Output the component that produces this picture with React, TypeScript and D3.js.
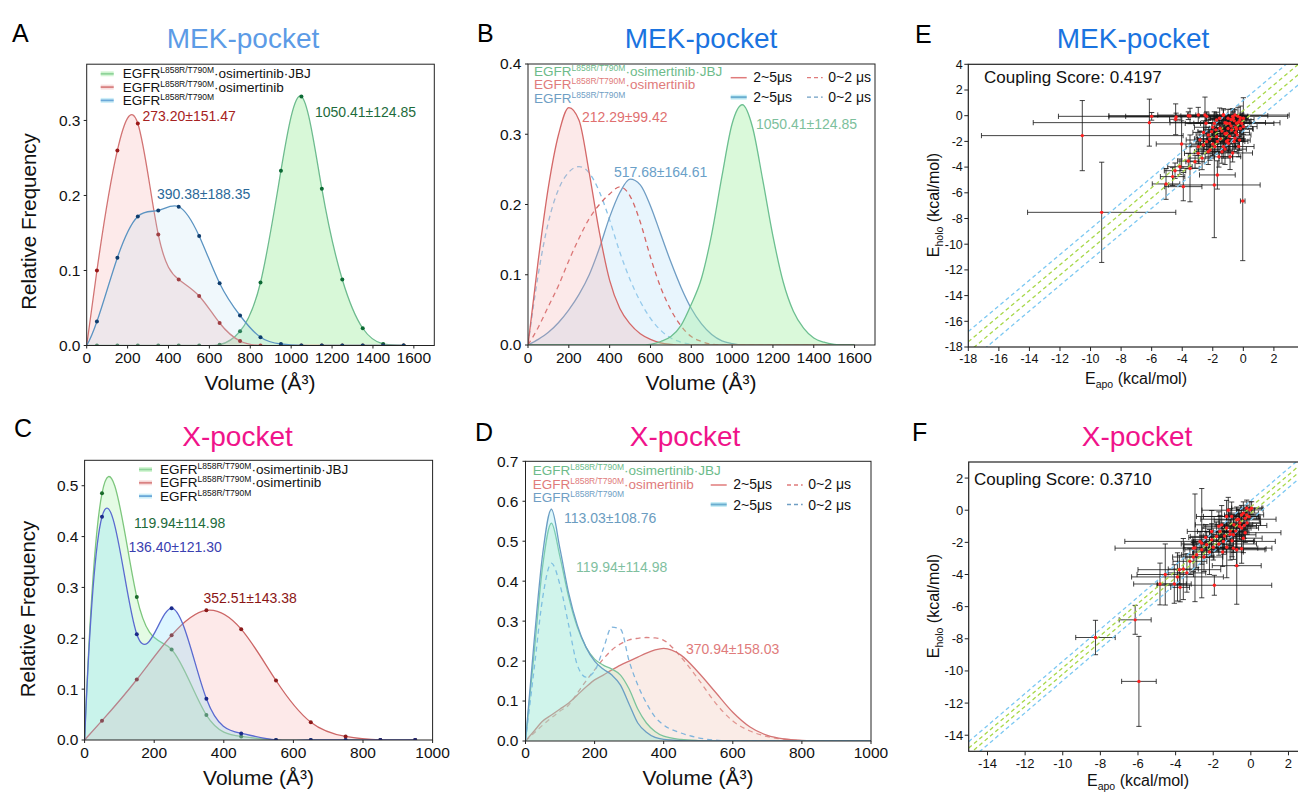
import React from "react";
import * as d3 from "d3";

const FONT = "Arial, 'Liberation Sans', Helvetica, sans-serif";

// ---------- Panel A (MEK-pocket, histogram points) ----------
const volA = [0, 50, 150, 250, 350, 450, 550, 650, 750, 850, 950, 1050, 1150, 1250, 1350, 1450, 1550];
const freqA_jbj = [0, 0, 0, 0, 0, 0, 0, 0.001, 0.019, 0.084, 0.233, 0.332, 0.209, 0.088, 0.023, 0.002, 0];
const freqA_osi = [0, 0.1, 0.26, 0.296, 0.148, 0.088, 0.066, 0.03, 0.006, 0, 0, 0, 0, 0, 0, 0, 0];
const freqA_apo = [0, 0.032, 0.117, 0.172, 0.18, 0.185, 0.146, 0.083, 0.04, 0.011, 0.002, 0, 0, 0, 0, 0, 0];

// ---------- Panel B (MEK-pocket, time windows) ----------
const volB = [0, 50, 100, 150, 200, 250, 300, 350, 400, 450, 500, 550, 600, 650, 700, 750, 800, 850, 900, 950, 1000, 1050, 1100, 1150, 1200, 1250, 1300, 1350, 1400, 1450, 1500, 1550, 1600];
const freqB_osi_25 = [0, 0.12, 0.225, 0.3, 0.338, 0.32, 0.245, 0.16, 0.092, 0.052, 0.03, 0.016, 0.008, 0.003, 0.001, 0, 0, 0, 0, 0, 0, 0, 0, 0, 0, 0, 0, 0, 0, 0, 0, 0, 0];
const freqB_osi_02 = [0, 0.025, 0.055, 0.085, 0.12, 0.152, 0.18, 0.2, 0.215, 0.225, 0.212, 0.175, 0.125, 0.082, 0.05, 0.027, 0.012, 0.005, 0.001, 0, 0, 0, 0, 0, 0, 0, 0, 0, 0, 0, 0, 0, 0];
const freqB_apo_25 = [0, 0.008, 0.018, 0.032, 0.05, 0.072, 0.1, 0.138, 0.182, 0.217, 0.236, 0.228, 0.198, 0.158, 0.118, 0.082, 0.052, 0.03, 0.015, 0.006, 0.002, 0, 0, 0, 0, 0, 0, 0, 0, 0, 0, 0, 0];
const freqB_apo_02 = [0, 0.1, 0.175, 0.222, 0.246, 0.254, 0.245, 0.218, 0.178, 0.132, 0.093, 0.062, 0.038, 0.021, 0.01, 0.004, 0.001, 0, 0, 0, 0, 0, 0, 0, 0, 0, 0, 0, 0, 0, 0, 0, 0];
const freqB_jbj_25 = [0, 0, 0, 0, 0, 0, 0, 0, 0, 0, 0, 0, 0.001, 0.005, 0.012, 0.028, 0.058, 0.095, 0.158, 0.24, 0.315, 0.342, 0.31, 0.235, 0.155, 0.09, 0.048, 0.024, 0.01, 0.004, 0.001, 0, 0];

// ---------- Panel C (X-pocket, histogram points) ----------
const volC = [0, 50, 150, 250, 350, 450, 550, 650, 750, 850, 950];
const freqC_jbj = [0, 0.485, 0.281, 0.178, 0.049, 0.007, 0, 0, 0, 0, 0];
const freqC_osi = [0, 0.038, 0.119, 0.206, 0.255, 0.218, 0.117, 0.035, 0.007, 0, 0];
const freqC_apo = [0, 0.439, 0.208, 0.259, 0.081, 0.013, 0, 0, 0, 0, 0];

// ---------- Panel D (X-pocket, time windows) ----------
const volD = [0, 25, 50, 75, 100, 125, 150, 175, 200, 225, 250, 275, 300, 325, 350, 375, 400, 450, 500, 550, 600, 650, 700, 750, 800, 850, 900, 950, 1000];
const freqD_apo_25 = [0, 0.25, 0.47, 0.58, 0.48, 0.37, 0.29, 0.235, 0.2, 0.18, 0.165, 0.14, 0.092, 0.045, 0.022, 0.009, 0.004, 0.001, 0, 0, 0, 0, 0, 0, 0, 0, 0, 0, 0];
const freqD_jbj_25 = [0, 0.22, 0.44, 0.545, 0.46, 0.36, 0.285, 0.235, 0.205, 0.19, 0.18, 0.165, 0.13, 0.08, 0.045, 0.024, 0.012, 0.004, 0.001, 0, 0, 0, 0, 0, 0, 0, 0, 0, 0];
const freqD_apo_02 = [0, 0.18, 0.36, 0.445, 0.39, 0.29, 0.19, 0.16, 0.175, 0.23, 0.285, 0.28, 0.2, 0.14, 0.095, 0.06, 0.04, 0.02, 0.008, 0.002, 0, 0, 0, 0, 0, 0, 0, 0, 0];
const freqD_osi_25 = [0, 0.025, 0.05, 0.065, 0.08, 0.095, 0.115, 0.135, 0.153, 0.165, 0.178, 0.19, 0.2, 0.21, 0.22, 0.228, 0.232, 0.215, 0.172, 0.122, 0.072, 0.035, 0.014, 0.005, 0.0015, 0, 0, 0, 0];
const freqD_osi_02 = [0, 0.02, 0.04, 0.058, 0.075, 0.09, 0.12, 0.15, 0.178, 0.205, 0.228, 0.243, 0.253, 0.257, 0.259, 0.258, 0.252, 0.21, 0.155, 0.095, 0.05, 0.025, 0.011, 0.004, 0.001, 0, 0, 0, 0];

// ---------- Ticks ----------
const ticksVolAB = [0, 200, 400, 600, 800, 1000, 1200, 1400, 1600];
const ticksVolCD = [0, 200, 400, 600, 800, 1000];
const ticksFreqA = [0, 0.1, 0.2, 0.3];
const ticksFreqB = [0, 0.1, 0.2, 0.3, 0.4];
const ticksFreqC = [0, 0.1, 0.2, 0.3, 0.4, 0.5];
const ticksFreqD = [0, 0.1, 0.2, 0.3, 0.4, 0.5, 0.6, 0.7];
const ticksE = [-18, -16, -14, -12, -10, -8, -6, -4, -2, 0, 2, 4];
const ticksEx = [-18, -16, -14, -12, -10, -8, -6, -4, -2, 0, 2];
const ticksF = [-14, -12, -10, -8, -6, -4, -2, 0, 2];

// ---------- Panel E / F coupling points: [E_apo, E_holo, xerr, yerr] ----------
const couplingE: number[][] = [
  [-10.54, -1.55, 6.6, 2.73], [-9.27, -7.52, 4.85, 3.9], [-6.15, -0.54, 7.6, 1.83], [-6.0, -0.05, 6.1, 0.3],
  [-4.43, -0.28, 0.4, 1.2], [-4.4, -0.1, 4.4, 0.3], [-3.6, 0.0, 5.2, 0.3], [-2.4, -0.05, 5.3, 0.35],
  [-1.3, 0.05, 4.3, 0.4], [-1.2, -0.55, 3.6, 0.45], [-0.9, -0.6, 2.9, 0.5], [-1.9, -5.39, 3.0, 4.1],
  [-0.04, -6.64, 0.15, 4.64], [0.0, -0.2, 0.3, 1.6], [-3.93, -5.52, 1.22, 1.1], [-5.06, -5.31, 0.9, 1.2],
  [-1.7, -4.61, 1.17, 1.1], [-4.63, -4.74, 0.8, 0.7], [-4.47, -4.28, 0.7, 0.6], [-4.15, -3.97, 0.8, 0.6],
  [-3.6, -3.53, 0.7, 0.6], [-3.49, -4.1, 0.6, 2.6], [-4.04, -2.2, 1.66, 1.8], [-2.95, -2.93, 0.9, 0.8],
  [-2.95, -2.41, 0.8, 0.7], [-2.4, -2.02, 0.7, 0.6], [-2.18, -2.67, 0.9, 0.8], [-1.75, -1.63, 0.6, 0.6],
  [-1.31, -2.41, 0.8, 0.9], [-0.87, -3.19, 0.7, 1.0], [-0.98, -2.15, 0.7, 0.7], [-0.55, -1.76, 0.6, 0.6],
  [-1.53, -0.98, 0.7, 0.6], [-1.09, -0.59, 0.6, 0.5], [-0.66, -0.2, 0.5, 0.5], [-0.44, -0.59, 0.5, 0.5],
  [-0.22, -0.33, 0.4, 0.4], [-0.76, -1.11, 0.6, 0.5], [-2.07, -1.24, 0.9, 0.7], [-2.44, -0.59, 0.8, 0.8],
  [-3.49, -0.02, 0.6, 0.6], [-2.95, 0.05, 0.7, 0.6], [-2.51, 0.05, 0.6, 1.4], [-1.31, 0.05, 0.5, 0.5],
  [-1.09, -1.37, 0.7, 0.6], [-1.86, -2.41, 0.7, 0.6], [0.0, -0.85, 0.9, 0.6], [-1.75, -0.33, 0.7, 0.6],
  [-0.55, 0.05, 0.5, 0.4], [-2.29, -1.5, 0.8, 0.6], [-2.84, -1.89, 0.9, 0.7], [-2.62, -2.28, 0.8, 0.7],
  [-3.16, -3.58, 0.6, 0.5], [-1.2, -2.6, 1.4, 1.2], [-0.3, -2.4, 1.0, 0.8], [-0.5, -1.3, 0.9, 1.2],
  [-1.6, -3.2, 0.9, 0.8], [-2.0, -0.9, 1.2, 0.7], [-0.2, -1.0, 0.8, 0.9], [-0.8, -0.3, 1.5, 0.8],
  [-1.5, -1.8, 1.5, 1.1], [-2.7, -3.3, 0.8, 0.9], [-0.7, -2.9, 1.3, 0.7], [-1.0, -1.9, 1.0, 1.4],
  [-0.35, -0.05, 0.6, 0.7], [-1.55, -0.2, 0.6, 0.8],
  [-0.3, -0.5, 0.7, 0.6], [-0.5, -0.9, 0.8, 0.7], [-0.8, -0.8, 0.6, 0.6], [-1.0, -1.0, 0.9, 0.8],
  [-1.2, -1.4, 0.8, 0.7], [-1.4, -1.2, 0.7, 0.9], [-1.7, -2.0, 0.9, 0.8], [-2.0, -2.2, 0.8, 0.9],
  [-2.2, -1.8, 1.0, 0.7], [-0.6, -0.4, 1.1, 0.9], [-0.1, -0.6, 0.6, 0.8], [-0.4, -1.5, 0.9, 0.9],
  [-1.0, -0.2, 1.2, 0.7], [-1.8, -1.1, 0.8, 1.0], [-2.3, -2.8, 0.9, 1.0], [-0.9, -1.6, 0.8, 1.1],
  [-0.2, -0.15, 0.5, 0.9], [-0.6, -2.0, 0.9, 0.8], [-1.4, -2.8, 1.0, 0.9], [-2.6, -1.3, 0.7, 0.9],
  [-0.7, -0.05, 1.0, 0.6], [-1.1, -2.0, 1.2, 0.7], [-0.45, -1.05, 1.1, 0.9], [-0.25, -1.9, 0.7, 0.8],
  [-1.9, -0.6, 0.9, 0.9],
];
const couplingF: number[][] = [
  [-8.26, -7.92, 1.05, 1.07], [-6.15, -6.82, 0.85, 0.9], [-5.95, -10.65, 0.92, 2.8], [-1.94, -4.67, 3.05, 0.62],
  [-0.75, -3.45, 1.3, 2.4], [-4.83, -4.59, 1.4, 1.3], [-4.07, -4.59, 0.9, 1.2], [-3.8, -3.7, 2.2, 0.9],
  [-3.59, -3.66, 0.8, 1.9], [-3.06, -2.91, 1.1, 0.9], [-2.97, -2.34, 0.6, 3.35], [-2.61, -2.05, 0.5, 3.4],
  [-2.7, -1.94, 4.0, 0.6], [-3.05, -2.36, 4.17, 0.5], [-3.9, -4.15, 2.44, 1.5], [-0.4, -1.74, 1.0, 0.9],
  [-0.93, -2.36, 1.3, 0.7], [-0.49, -1.11, 0.9, 0.7], [-0.75, -0.6, 1.2, 0.8], [-0.4, -0.18, 0.8, 0.7],
  [-0.05, 0.02, 0.7, 0.5], [-0.22, -0.29, 0.9, 0.6], [-0.58, -0.8, 1.1, 0.8], [-1.02, -0.39, 1.5, 0.9],
  [-1.29, -1.11, 1.3, 0.8], [-1.64, -1.32, 1.2, 1.0], [-1.82, -1.63, 1.4, 0.9], [-2.08, -1.84, 1.0, 1.0],
  [-2.35, -2.15, 1.2, 0.8], [-2.61, -2.46, 0.9, 0.9], [-2.88, -2.77, 0.8, 0.8], [-2.49, -2.91, 1.0, 0.9],
  [-3.24, -3.18, 0.9, 0.8], [-0.49, -2.4, 1.3, 0.9], [-0.75, -2.46, 1.5, 1.0], [-1.46, -1.94, 1.6, 0.8],
  [-0.22, 0.13, 0.8, 0.5], [0.04, 0.13, 0.6, 0.4], [-1.29, -0.39, 1.6, 1.0], [-1.55, -0.91, 1.4, 1.2],
  [-2.08, -1.32, 1.3, 1.3], [-0.93, -1.53, 1.2, 1.1], [-0.66, -0.56, 2.0, 0.6], [-1.2, 0.0, 1.4, 0.8],
  [-3.76, -4.8, 0.5, 0.9], [-1.28, -2.3, 0.8, 1.9], [-4.55, -4.0, 1.5, 1.9], [-0.3, -1.4, 1.9, 0.6],
  [-1.1, -1.5, 0.5, 1.6], [-3.4, -3.9, 1.0, 1.2], [-2.2, -2.6, 0.9, 1.4], [-1.7, -2.1, 2.0, 0.7],
  [-0.3, -0.5, 0.8, 0.7], [-0.6, -1.0, 0.9, 0.8], [-0.9, -0.9, 1.0, 0.6], [-1.1, -1.3, 0.9, 0.9],
  [-1.4, -1.6, 1.1, 0.8], [-0.2, -0.8, 0.7, 0.7], [-0.5, -0.3, 0.9, 0.6], [-1.7, -1.0, 0.8, 0.9],
  [-2.0, -2.3, 1.0, 0.8], [-1.0, -1.9, 1.2, 1.0], [-0.8, -1.3, 0.7, 1.0], [-1.5, -2.6, 1.1, 0.9],
  [-2.4, -1.7, 0.9, 0.8], [-0.35, -0.95, 1.2, 0.8], [-0.1, -0.4, 0.5, 0.6],
];
const diagOffsetsE = [1.2, 0.4, -0.4, -1.2];
const diagOffsetsF = [0.6, 0.2, -0.2, -0.6];
const diagColors = ["#7cc8f2", "#a8d84a", "#a8d84a", "#7cc8f2"];

// ---------- scales ----------
const xsA = d3.scaleLinear().domain([0, 1700]).range([86.7, 434.3]);
const ysA = d3.scaleLinear().domain([0, 0.375]).range([345.5, 64.2]);
const xsB = d3.scaleLinear().domain([0, 1700]).range([528, 875]);
const ysB = d3.scaleLinear().domain([0, 0.4]).range([345, 64]);
const xsC = d3.scaleLinear().domain([0, 1000]).range([84.6, 432.6]);
const ysC = d3.scaleLinear().domain([0, 0.55]).range([740, 460.3]);
const xsD = d3.scaleLinear().domain([0, 1000]).range([525.5, 871]);
const ysD = d3.scaleLinear().domain([0, 0.7]).range([741, 461.3]);
const xsE = d3.scaleLinear().domain([-18, 4]).range([968.3, 968.3 + 22 * 15.28]);
const ysE = d3.scaleLinear().domain([-18, 4]).range([347, 64.3]);
const xsF = d3.scaleLinear().domain([-15, 3]).range([968.7, 968.7 + 18 * 18.81]);
const ysF = d3.scaleLinear().domain([-15, 3]).range([751.3, 462]);

// ---------- not-a-knot cubic spline curve (d3 curve factory) ----------
function solve(A: number[][], b: number[]): number[] {
  const n = b.length;
  const M = A.map((r, i) => [...r, b[i]]);
  for (let c = 0; c < n; c++) {
    let p = c;
    for (let r = c + 1; r < n; r++) if (Math.abs(M[r][c]) > Math.abs(M[p][c])) p = r;
    [M[c], M[p]] = [M[p], M[c]];
    const piv = M[c][c] || 1e-12;
    for (let r = c + 1; r < n; r++) {
      const f = M[r][c] / piv;
      if (f !== 0) for (let k = c; k <= n; k++) M[r][k] -= f * M[c][k];
    }
  }
  const x = new Array(n).fill(0);
  for (let r = n - 1; r >= 0; r--) {
    let s = M[r][n];
    for (let k = r + 1; k < n; k++) s -= M[r][k] * x[k];
    x[r] = s / (M[r][r] || 1e-12);
  }
  return x;
}

class NotAKnot {
  _context: any;
  _line: number = NaN;
  _x: number[] = [];
  _y: number[] = [];
  constructor(ctx: any) {
    this._context = ctx;
  }
  areaStart() {
    this._line = 0;
  }
  areaEnd() {
    this._line = NaN;
  }
  lineStart() {
    this._x = [];
    this._y = [];
  }
  point(x: number, y: number) {
    this._x.push(+x);
    this._y.push(+y);
  }
  lineEnd() {
    const x = this._x, y = this._y, n = x.length;
    const ctx = this._context;
    if (n) {
      this._line ? ctx.lineTo(x[0], y[0]) : ctx.moveTo(x[0], y[0]);
      const flat = y.every((v) => v === y[0]);
      if (n < 4 || flat) {
        for (let i = 1; i < n; i++) ctx.lineTo(x[i], y[i]);
      } else {
        const h: number[] = [], d: number[] = [];
        for (let i = 0; i < n - 1; i++) {
          h.push(x[i + 1] - x[i]);
          d.push((y[i + 1] - y[i]) / h[i]);
        }
        const A: number[][] = Array.from({ length: n }, () => new Array(n).fill(0));
        const b = new Array(n).fill(0);
        A[0][0] = h[1];
        A[0][1] = -(h[0] + h[1]);
        A[0][2] = h[0];
        for (let i = 1; i < n - 1; i++) {
          A[i][i - 1] = h[i - 1];
          A[i][i] = 2 * (h[i - 1] + h[i]);
          A[i][i + 1] = h[i];
          b[i] = 6 * (d[i] - d[i - 1]);
        }
        A[n - 1][n - 3] = h[n - 2];
        A[n - 1][n - 2] = -(h[n - 3] + h[n - 2]);
        A[n - 1][n - 1] = h[n - 3];
        const Mm = solve(A, b);
        const s: number[] = [];
        for (let i = 0; i < n - 1; i++) s.push(d[i] - (h[i] * (2 * Mm[i] + Mm[i + 1])) / 6);
        s.push(d[n - 2] + (h[n - 2] * (Mm[n - 2] + 2 * Mm[n - 1])) / 6);
        for (let i = 0; i < n - 1; i++) {
          const hh = h[i] / 3;
          ctx.bezierCurveTo(x[i] + hh, y[i] + s[i] * hh, x[i + 1] - hh, y[i + 1] - s[i + 1] * hh, x[i + 1], y[i + 1]);
        }
      }
    }
    if (this._line || (this._line !== 0 && n === 1)) ctx.closePath();
    this._line = 1 - this._line;
  }
}
const curveNotAKnot: any = (ctx: any) => new NotAKnot(ctx);

type Scale = d3.ScaleLinear<number, number>;
interface Spec {
  xv: number[];
  yv: number[];
  stroke: string;
  width?: number;
  dash?: string;
  fill?: string;
  fillOpacity?: number;
  dot?: string;
}

function Curves({ specs, xs, ys, curve, clip }: { specs: Spec[]; xs: Scale; ys: Scale; curve: any; clip: string }) {
  return (
    <g clipPath={`url(#${clip})`}>
      {specs.map((s, i) => {
        const line = d3.line<number>().x((_, j) => xs(s.xv[j])).y((d) => ys(d)).curve(curve)(s.yv) || "";
        const area = d3.area<number>().x((_, j) => xs(s.xv[j])).y0(ys(0)).y1((d) => ys(d)).curve(curve)(s.yv) || "";
        return (
          <g key={i}>
            {s.fill && <path d={area} fill={s.fill} fillOpacity={s.fillOpacity ?? 0.25} stroke="none" />}
            <path d={line} fill="none" stroke={s.stroke} strokeWidth={s.width ?? 1.3} strokeDasharray={s.dash} />
            {s.dot &&
              s.xv.map((x, j) => (j === 0 ? null : <circle key={j} cx={xs(x)} cy={ys(s.yv[j])} r={2} fill={s.dot} />))}
          </g>
        );
      })}
    </g>
  );
}

function Frame({ xs, ys, xTicks, yTicks, xFmt, yFmt, fs, xLabY, yLabX, tick }: any) {
  const [x0, x1] = xs.range();
  const [yb, yt] = ys.range();
  return (
    <g fontFamily={FONT} fontSize={fs} fill="#111">
      <rect x={x0} y={yt} width={x1 - x0} height={yb - yt} fill="none" stroke="#222" strokeWidth={1} />
      {xTicks.map((t: number) => (
        <g key={"x" + t}>
          <line x1={xs(t)} x2={xs(t)} y1={yb} y2={yb + tick} stroke="#222" />
          <text x={xs(t)} y={xLabY} textAnchor="middle">{xFmt(t)}</text>
        </g>
      ))}
      {yTicks.map((t: number) => (
        <g key={"y" + t}>
          <line x1={x0 - tick} x2={x0} y1={ys(t)} y2={ys(t)} stroke="#222" />
          <text x={yLabX} y={ys(t)} dy="0.35em" textAnchor="end">{yFmt(t)}</text>
        </g>
      ))}
    </g>
  );
}

function EgfrLabel({ x, y, tail, color, fs = 13.5 }: { x: number; y: number; tail: string; color: string; fs?: number }) {
  return (
    <text x={x} y={y} fontFamily={FONT} fontSize={fs} fill={color}>
      EGFR<tspan fontSize={8.5} dy={-5}>L858R/T790M</tspan>
      <tspan dy={5}>{tail}</tspan>
    </text>
  );
}

function LegendAC({ x, y0, lineX0 }: { x: number; y0: number; lineX0: number }) {
  const rows = [
    { tail: "·osimertinib·JBJ", c: "#8fd39a", band: "#d4f6d4" },
    { tail: "·osimertinib", c: "#d98282", band: "#f8dede" },
    { tail: "", c: "#6aa8d8", band: "#cdeef8" },
  ];
  return (
    <g>
      {rows.map((r, i) => {
        const by = y0 + i * 13.3;
        return (
          <g key={i}>
            <rect x={lineX0} y={by - 7} width={13} height={5} fill={r.band} />
            <line x1={lineX0} x2={lineX0 + 13} y1={by - 4.5} y2={by - 4.5} stroke={r.c} strokeWidth={1.8} />
            <EgfrLabel x={x} y={by} tail={r.tail} color="#111" />
          </g>
        );
      })}
    </g>
  );
}

function LegendBD({ x, y0, rx, ry }: { x: number; y0: number; rx: number; ry: number }) {
  const names = [
    { tail: "·osimertinib·JBJ", c: "#6dbb8a" },
    { tail: "·osimertinib", c: "#e07b7b" },
    { tail: "", c: "#6f9ec4" },
  ];
  const t = { fontFamily: FONT, fontSize: 14, fill: "#111" } as any;
  return (
    <g>
      {names.map((n, i) => (
        <EgfrLabel key={i} x={x} y={y0 + i * 13.5} tail={n.tail} color={n.c} />
      ))}
      <line x1={rx} x2={rx + 16} y1={ry} y2={ry} stroke="#e07b7b" strokeWidth={1.5} />
      <text x={rx + 22.6} y={ry + 4} {...t}>2~5μs</text>
      <line x1={rx + 76.3} x2={rx + 92} y1={ry} y2={ry} stroke="#e07b7b" strokeWidth={1.3} strokeDasharray="4,3" />
      <text x={rx + 97.6} y={ry + 4} {...t}>0~2 μs</text>
      <rect x={rx} y={ry + 17} width={16} height={5} fill="#c9eef6" />
      <line x1={rx} x2={rx + 16} y1={ry + 19.5} y2={ry + 19.5} stroke="#6aaed0" strokeWidth={2} />
      <text x={rx + 22.6} y={ry + 24.6} {...t}>2~5μs</text>
      <line x1={rx + 76.3} x2={rx + 92} y1={ry + 19.5} y2={ry + 19.5} stroke="#6f9ec4" strokeWidth={1.3} strokeDasharray="4,3" />
      <text x={rx + 97.6} y={ry + 24.6} {...t}>0~2 μs</text>
    </g>
  );
}

function Coupling({ pts, xs, ys, offs, clip, ticksX, ticksY, xLabY, score, scoreX, scoreY, tickFs }: any) {
  const [x0, x1] = xs.range();
  const [yb, yt] = ys.range();
  const dom = xs.domain();
  return (
    <g>
      <g clipPath={`url(#${clip})`}>
        {pts.map((p: number[], i: number) => {
          const [x, y, xe, ye] = p;
          const cx = xs(x), cy = ys(y), xl = xs(x - xe), xr = xs(x + xe), ytp = ys(y + ye), ybt = ys(y - ye);
          return (
            <g key={i} stroke="#141414" strokeOpacity={0.8} strokeWidth={1}>
              <line x1={xl} x2={xr} y1={cy} y2={cy} />
              <line x1={xl} x2={xl} y1={cy - 2.6} y2={cy + 2.6} />
              <line x1={xr} x2={xr} y1={cy - 2.6} y2={cy + 2.6} />
              <line x1={cx} x2={cx} y1={ytp} y2={ybt} />
              <line x1={cx - 2.6} x2={cx + 2.6} y1={ytp} y2={ytp} />
              <line x1={cx - 2.6} x2={cx + 2.6} y1={ybt} y2={ybt} />
            </g>
          );
        })}
        {offs.map((c: number, i: number) => (
          <line
            key={"d" + i}
            x1={xs(dom[0])}
            y1={ys(dom[0] + c)}
            x2={xs(dom[1])}
            y2={ys(dom[1] + c)}
            stroke={diagColors[i]}
            strokeWidth={1.3}
            strokeDasharray="4,3"
          />
        ))}
        {pts.map((p: number[], i: number) => (
          <circle key={"c" + i} cx={xs(p[0])} cy={ys(p[1])} r={1.7} fill="#ff2020" />
        ))}
      </g>
      <g fontFamily={FONT} fontSize={tickFs} fill="#111">
        <rect x={x0} y={yt} width={x1 - x0} height={yb - yt} fill="none" stroke="#222" strokeWidth={1.2} />
        {ticksX.map((t: number) => (
          <g key={"x" + t}>
            <line x1={xs(t)} x2={xs(t)} y1={yb} y2={yb + 4} stroke="#222" />
            <text x={xs(t)} y={xLabY} textAnchor="middle">{String(t)}</text>
          </g>
        ))}
        {ticksY.map((t: number) => (
          <g key={"y" + t}>
            <line x1={x0 - 4} x2={x0} y1={ys(t)} y2={ys(t)} stroke="#222" />
            <text x={x0 - 5.5} y={ys(t)} dy="0.35em" textAnchor="end">{String(t)}</text>
          </g>
        ))}
      </g>
      <text x={scoreX} y={scoreY} fontFamily={FONT} fontSize={17} fill="#111">{score}</text>
    </g>
  );
}

const fmt1 = (v: number) => v.toFixed(1);
const fmt0 = (v: number) => String(v);

export default function App() {
  const specsA: Spec[] = [
    { xv: volA, yv: freqA_jbj, stroke: "#6dbb8e", fill: "#a8f0a8", fillOpacity: 0.45, dot: "#0c6a34" },
    { xv: volA, yv: freqA_osi, stroke: "#d27474", fill: "#f4a0a0", fillOpacity: 0.22, dot: "#9a1818" },
    { xv: volA, yv: freqA_apo, stroke: "#5b94c2", fill: "#b4dcf2", fillOpacity: 0.2, dot: "#0e3d6e" },
  ];
  const specsB: Spec[] = [
    { xv: volB, yv: freqB_apo_02, stroke: "#86c0e6", dash: "5,4" },
    { xv: volB, yv: freqB_apo_25, stroke: "#6f9dc4", fill: "#b8e0f8", fillOpacity: 0.32 },
    { xv: volB, yv: freqB_osi_02, stroke: "#d46868", dash: "5,4" },
    { xv: volB, yv: freqB_osi_25, stroke: "#d46868", fill: "#f2a8a8", fillOpacity: 0.25 },
    { xv: volB, yv: freqB_jbj_25, stroke: "#6cbf90", fill: "#9ef09e", fillOpacity: 0.38 },
  ];
  const specsC: Spec[] = [
    { xv: volC, yv: freqC_jbj, stroke: "#7dc67d", fill: "#98ee98", fillOpacity: 0.26, dot: "#1a6b2a" },
    { xv: volC, yv: freqC_osi, stroke: "#cc6666", fill: "#f5a5a5", fillOpacity: 0.24, dot: "#8b1a1a" },
    { xv: volC, yv: freqC_apo, stroke: "#5a6ad0", fill: "#7adcff", fillOpacity: 0.26, dot: "#1a2a8a" },
  ];
  const specsD: Spec[] = [
    { xv: volD, yv: freqD_osi_02, stroke: "#dc8484", dash: "5,4" },
    { xv: volD, yv: freqD_osi_25, stroke: "#d47474", fill: "#f0c0b0", fillOpacity: 0.3 },
    { xv: volD, yv: freqD_jbj_25, stroke: "#7cc49c", fill: "#a8e8a0", fillOpacity: 0.22 },
    { xv: volD, yv: freqD_apo_02, stroke: "#7fb4dc", dash: "5,4" },
    { xv: volD, yv: freqD_apo_25, stroke: "#6b9ec4", fill: "#7ee4f0", fillOpacity: 0.26 },
  ];

  const clipRect = (id: string, xs: Scale, ys: Scale) => {
    const [x0, x1] = xs.range();
    const [yb, yt] = ys.range();
    return (
      <clipPath id={id} key={id}>
        <rect x={x0} y={yt} width={x1 - x0} height={yb - yt} />
      </clipPath>
    );
  };

  const title = (x: number, y: number, s: string, c: string) => (
    <text x={x} y={y} textAnchor="middle" fontFamily={FONT} fontSize={28} fill={c}>{s}</text>
  );
  const letter = (x: number, y: number, s: string) => (
    <text x={x} y={y} fontFamily={FONT} fontSize={25} fill="#000">{s}</text>
  );
  const ann = (x: number, y: number, s: string, c: string) => (
    <text x={x} y={y} fontFamily={FONT} fontSize={14} fill={c}>{s}</text>
  );
  const yLab = (x: number, y: number) => (
    <text transform={`translate(${x},${y}) rotate(-90)`} textAnchor="middle" fontFamily={FONT} fontSize={20.5} fill="#111">
      Relative Frequency
    </text>
  );
  const xLab = (x: number, y: number) => (
    <text x={x} y={y} textAnchor="middle" fontFamily={FONT} fontSize={21} fill="#111">Volume (Å³)</text>
  );
  const eLabX = (x: number, y: number) => (
    <text x={x} y={y} textAnchor="middle" fontFamily={FONT} fontSize={16} fill="#111">
      E<tspan fontSize={10.5} dy={3.5}>apo</tspan>
      <tspan dy={-3.5}> (kcal/mol)</tspan>
    </text>
  );
  const eLabY = (x: number, y: number) => (
    <text transform={`translate(${x},${y}) rotate(-90)`} textAnchor="middle" fontFamily={FONT} fontSize={16} fill="#111">
      E<tspan fontSize={10.5} dy={4}>holo</tspan>
      <tspan dy={-4}> (kcal/mol)</tspan>
    </text>
  );

  return (
    <svg
      width={1298}
      height={794}
      style={{ position: "absolute", left: 0, top: 0, display: "block", background: "#fff" }}
    >
      <defs>
        {clipRect("clipA", xsA, ysA)}
        {clipRect("clipB", xsB, ysB)}
        {clipRect("clipC", xsC, ysC)}
        {clipRect("clipD", xsD, ysD)}
        {clipRect("clipE", xsE, ysE)}
        {clipRect("clipF", xsF, ysF)}
      </defs>
      <rect x={0} y={0} width={1298} height={794} fill="#fff" />

      {/* Panel A */}
      {letter(12, 42, "A")}
      {title(243, 48, "MEK-pocket", "#5c9be6")}
      <Curves specs={specsA} xs={xsA} ys={ysA} curve={curveNotAKnot} clip="clipA" />
      <Frame xs={xsA} ys={ysA} xTicks={ticksVolAB} yTicks={ticksFreqA} xFmt={fmt0} yFmt={fmt1} fs={15.5} xLabY={363} yLabX={80.5} tick={3} />
      <LegendAC x={122.7} y0={78.3} lineX0={100.7} />
      {ann(142.5, 121, "273.20±151.47", "#a62222")}
      {ann(157, 199, "390.38±188.35", "#2a6898")}
      {ann(315, 117, "1050.41±124.85", "#1d6b3c")}
      {yLab(36, 221.5)}
      {xLab(260, 390)}

      {/* Panel B */}
      {letter(477, 42, "B")}
      {title(701, 48, "MEK-pocket", "#1a73e0")}
      <Curves specs={specsB} xs={xsB} ys={ysB} curve={d3.curveMonotoneX} clip="clipB" />
      <Frame xs={xsB} ys={ysB} xTicks={ticksVolAB} yTicks={ticksFreqB} xFmt={fmt0} yFmt={fmt1} fs={15.5} xLabY={363} yLabX={521.5} tick={3} />
      <LegendBD x={534} y0={75.7} rx={730.7} ry={77.7} />
      {ann(582, 121.7, "212.29±99.42", "#e07070")}
      {ann(614, 176.7, "517.68±164.61", "#6aa0c8")}
      {ann(756, 129.3, "1050.41±124.85", "#7cc09c")}
      {xLab(701, 390)}

      {/* Panel C */}
      {letter(14, 437, "C")}
      {title(237.5, 446, "X-pocket", "#f0138a")}
      <Curves specs={specsC} xs={xsC} ys={ysC} curve={curveNotAKnot} clip="clipC" />
      <Frame xs={xsC} ys={ysC} xTicks={ticksVolCD} yTicks={ticksFreqC} xFmt={fmt0} yFmt={fmt1} fs={15.5} xLabY={758} yLabX={78.5} tick={3} />
      <LegendAC x={160} y0={474} lineX0={139} />
      {ann(134, 528.3, "119.94±114.98", "#1d6b3c")}
      {ann(128.5, 552.3, "136.40±121.30", "#3a40b0")}
      {ann(203.5, 603.3, "352.51±143.38", "#8b1515")}
      {yLab(35, 609)}
      {xLab(258.5, 785)}

      {/* Panel D */}
      {letter(475, 441, "D")}
      {title(685, 446, "X-pocket", "#f0138a")}
      <Curves specs={specsD} xs={xsD} ys={ysD} curve={d3.curveMonotoneX} clip="clipD" />
      <Frame xs={xsD} ys={ysD} xTicks={ticksVolCD} yTicks={ticksFreqD} xFmt={fmt0} yFmt={fmt1} fs={15.5} xLabY={758} yLabX={518.5} tick={3} />
      <LegendBD x={532.7} y0={475} rx={710.7} ry={485} />
      {ann(564, 522.7, "113.03±108.76", "#6a9cc0")}
      {ann(576, 571.7, "119.94±114.98", "#7fbf9f")}
      {ann(686, 654, "370.94±158.03", "#e07b7b")}
      {xLab(698, 785)}

      {/* Panel E */}
      {letter(915, 43, "E")}
      {title(1133, 48, "MEK-pocket", "#1a73e0")}
      <Coupling pts={couplingE} xs={xsE} ys={ysE} offs={diagOffsetsE} clip="clipE" ticksX={ticksEx} ticksY={ticksE} xLabY={363} score="Coupling Score: 0.4197" scoreX={984} scoreY={83} tickFs={12.5} />
      {eLabX(1136, 384)}
      {eLabY(939, 205)}

      {/* Panel F */}
      {letter(912, 441, "F")}
      {title(1137, 446, "X-pocket", "#f0138a")}
      <Coupling pts={couplingF} xs={xsF} ys={ysF} offs={diagOffsetsF} clip="clipF" ticksX={ticksF} ticksY={ticksF} xLabY={767.5} score="Coupling Score: 0.3710" scoreX={974} scoreY={485} tickFs={13} />
      {eLabX(1138, 786)}
      {eLabY(939, 606)}
    </svg>
  );
}
